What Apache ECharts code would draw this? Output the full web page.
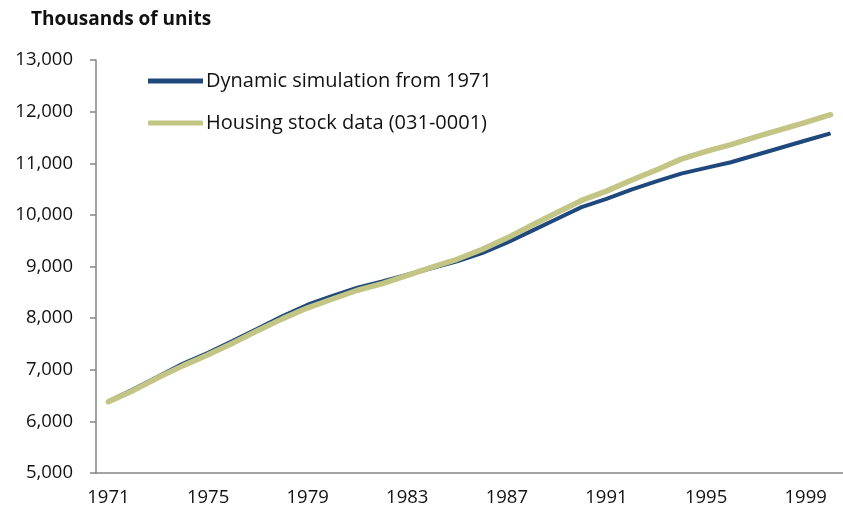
<!DOCTYPE html>
<html>
<head>
<meta charset="utf-8">
<script src="https://cdn.jsdelivr.net/npm/echarts@6/dist/echarts.min.js"></script>
<style>
  html, body { margin: 0; padding: 0; background: #fff; }
  #main { width: 843px; height: 516px; }
</style>
</head>
<body>
<div id="main"></div>
<script>
// years on the category axis
const years = [];
for (let y = 1971; y <= 2000; y++) years.push(String(y));

// Dynamic simulation from 1971 (thousands of units)
const simulation = [
  6390, 6620, 6870, 7120, 7330, 7560, 7800, 8040, 8260, 8430,
  8590, 8710, 8840, 8970, 9100, 9260, 9460, 9690, 9920, 10150,
  10310, 10490, 10650, 10800, 10910, 11020, 11160, 11300, 11440, 11580
];

// Housing stock data (031-0001)
const stock = [
  6380, 6600, 6850, 7080, 7290, 7520, 7760, 7990, 8200, 8370,
  8540, 8670, 8830, 8990, 9140, 9330, 9550, 9800, 10040, 10280,
  10460, 10670, 10870, 11080, 11230, 11360, 11510, 11650, 11790, 11940
];

const fontFam = '"Open Sans", "Noto Sans", sans-serif';
const axisColor = '#868686';
const blue = '#1f497d';
const green = '#c3c584';

const chart = echarts.init(document.getElementById('main'));

const option = {
  animation: false,
  title: {
    text: 'Thousands of units',
    left: 26,
    top: 5,
    textStyle: { fontFamily: fontFam, fontSize: 19, fontWeight: 'bold', color: '#111' }
  },
  legend: {
    orient: 'vertical',
    left: 143,
    top: 66,
    itemWidth: 55,
    itemHeight: 5,
    itemGap: 22,
    textStyle: { fontFamily: fontFam, fontSize: 20, color: '#111', padding: [0, 0, 0, -2] },
    data: [
      { name: 'Dynamic simulation from 1971', icon: 'rect' },
      { name: 'Housing stock data (031-0001)', icon: 'roundRect' }
    ]
  },
  grid: {
    left: 96,
    right: -4,
    top: 60,
    bottom: 43
  },
  xAxis: {
    type: 'category',
    data: years,
    boundaryGap: true,
    axisLine: { lineStyle: { color: axisColor, width: 1.5 } },
    axisTick: { interval: 3, length: 6, lineStyle: { color: axisColor, width: 1.5 } },
    axisLabel: {
      interval: 3,
      margin: 15,
      color: '#111',
      fontFamily: fontFam,
      fontSize: 18.5
    },
    splitLine: { show: false }
  },
  yAxis: {
    type: 'value',
    min: 5000,
    max: 13000,
    interval: 1000,
    axisLine: { show: true, lineStyle: { color: axisColor, width: 1.5 } },
    axisTick: { show: true, length: 6, lineStyle: { color: axisColor, width: 1.5 } },
    axisLabel: {
      margin: 23,
      color: '#111',
      fontFamily: fontFam,
      fontSize: 18.5,
      formatter: v => v.toLocaleString('en-US')
    },
    splitLine: { show: false }
  },
  series: [
    {
      name: 'Dynamic simulation from 1971',
      type: 'line',
      data: simulation,
      symbol: 'none',
      lineStyle: { color: blue, width: 4 },
      itemStyle: { color: blue }
    },
    {
      name: 'Housing stock data (031-0001)',
      type: 'line',
      data: stock,
      symbol: 'none',
      lineStyle: { color: green, width: 5.5, cap: 'round', join: 'round' },
      itemStyle: { color: green }
    }
  ]
};

chart.setOption(option);
</script>
</body>
</html>
